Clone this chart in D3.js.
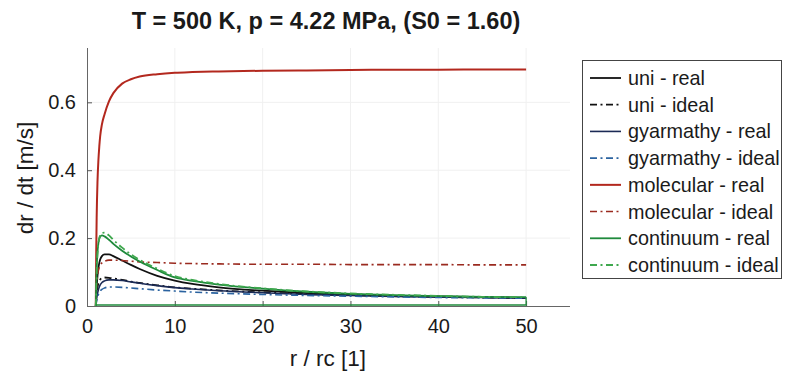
<!DOCTYPE html>
<html>
<head>
<meta charset="utf-8">
<script src="https://cdn.jsdelivr.net/npm/d3@7"></script>
<style>
  body { margin: 0; background: #fff; }
  svg { display: block; font-family: "Liberation Sans", Arial, sans-serif; }
</style>
</head>
<body>
<div id="chart"></div>
<script>
// ---- Data: growth rate dr/dt [m/s] vs. reduced radius r/rc ----
const rGrid = [1, 1.05, 1.1, 1.2, 1.3, 1.4, 1.5, 1.7, 2, 2.5, 3, 4, 5, 6, 8, 10, 12, 15, 20, 25, 30, 35, 40, 45, 50];

const uniReal       = [0, 0.030, 0.055, 0.090, 0.112, 0.127, 0.137, 0.147, 0.152, 0.152, 0.147, 0.134, 0.121, 0.109, 0.089, 0.075, 0.065, 0.055, 0.045, 0.038, 0.034, 0.030, 0.028, 0.026, 0.024];
const uniIdeal      = [0, 0.020, 0.035, 0.055, 0.067, 0.074, 0.078, 0.082, 0.084, 0.083, 0.081, 0.077, 0.072, 0.068, 0.061, 0.055, 0.051, 0.046, 0.040, 0.035, 0.032, 0.029, 0.027, 0.025, 0.024];
const gyarReal      = [0, 0.012, 0.022, 0.037, 0.048, 0.056, 0.062, 0.069, 0.074, 0.077, 0.077, 0.075, 0.071, 0.067, 0.060, 0.054, 0.050, 0.045, 0.039, 0.034, 0.031, 0.028, 0.026, 0.025, 0.023];
const gyarIdeal     = [0, 0.008, 0.015, 0.026, 0.034, 0.040, 0.044, 0.049, 0.053, 0.056, 0.056, 0.055, 0.053, 0.051, 0.047, 0.044, 0.041, 0.038, 0.034, 0.031, 0.029, 0.027, 0.025, 0.024, 0.023];
const molReal       = [0, 0.160, 0.260, 0.370, 0.430, 0.470, 0.500, 0.535, 0.565, 0.603, 0.627, 0.655, 0.668, 0.676, 0.683, 0.687, 0.689, 0.691, 0.693, 0.694, 0.695, 0.696, 0.696, 0.697, 0.697];
const molIdeal      = [0, 0.040, 0.065, 0.090, 0.105, 0.114, 0.120, 0.127, 0.132, 0.135, 0.135, 0.134, 0.132, 0.130, 0.128, 0.126, 0.125, 0.124, 0.123, 0.123, 0.122, 0.122, 0.122, 0.121, 0.121];
const contReal      = [0, 0.060, 0.110, 0.160, 0.185, 0.198, 0.204, 0.208, 0.205, 0.195, 0.183, 0.163, 0.146, 0.131, 0.106, 0.084, 0.074, 0.063, 0.051, 0.042, 0.036, 0.032, 0.029, 0.027, 0.026];
const contIdeal     = [0, 0.050, 0.100, 0.155, 0.185, 0.200, 0.208, 0.215, 0.216, 0.208, 0.195, 0.172, 0.152, 0.136, 0.110, 0.088, 0.077, 0.065, 0.052, 0.043, 0.037, 0.033, 0.030, 0.027, 0.026];

// the continuum-real trace in the source is closed back along the bottom
const contTailR = [50, 1];
const contTailV = [0.003, 0.003];

const seriesNames = ["uni - real", "uni - ideal", "gyarmathy - real", "gyarmathy - ideal",
                     "molecular - real", "molecular - ideal", "continuum - real", "continuum - ideal"];
const seriesValues = [uniReal, uniIdeal, gyarReal, gyarIdeal, molReal, molIdeal, contReal, contIdeal];

const xTicks = [0, 10, 20, 30, 40, 50];
const yTicks = [0, 0.2, 0.4, 0.6];

// ---- Styling per series ----
const colors  = ["#111111", "#111111", "#1b2a55", "#2b63a0", "#b3281e", "#9a2a1f", "#1f8a3c", "#3fa84e"];
const dashed  = [false, true, false, true, false, true, false, true];
const widths  = [1.8, 1.8, 1.6, 1.6, 2, 1.6, 1.8, 1.8];
const DASH = "7,3.5,2,3.5";

const W = 785, H = 376;
const svg = d3.select("#chart").append("svg").attr("width", W).attr("height", H);

const x = d3.scaleLinear().domain([0, 55]).range([87, 570]);
const y = d3.scaleLinear().domain([0, 0.76]).range([306, 48]);

// ---- faint grid ----
svg.append("g").selectAll("line.gx")
  .data(xTicks.slice(1)).join("line")
  .attr("x1", d => x(d)).attr("x2", d => x(d))
  .attr("y1", y.range()[0]).attr("y2", y.range()[1])
  .attr("stroke", "#f0f0f0").attr("stroke-width", 1);
svg.append("g").selectAll("line.gy")
  .data(yTicks.slice(1)).join("line")
  .attr("x1", x.range()[0]).attr("x2", x.range()[1])
  .attr("y1", d => y(d)).attr("y2", d => y(d))
  .attr("stroke", "#f0f0f0").attr("stroke-width", 1);

// ---- axes (left + bottom only, ticks inward) ----
const xAxis = d3.axisBottom(x).tickValues(xTicks).tickSize(-5).tickPadding(13).tickFormat(d3.format("d"));
const yAxis = d3.axisLeft(y).tickValues(yTicks).tickSize(-5).tickPadding(11).tickFormat(d => d === 0 ? "0" : d3.format(".1f")(d));

const gx = svg.append("g").attr("transform", `translate(0,${y(0)})`).call(xAxis);
const gy = svg.append("g").attr("transform", `translate(${x(0)},0)`).call(yAxis);
[gx, gy].forEach(g => {
  g.select(".domain").attr("stroke", "#666").attr("stroke-width", 1);
  g.selectAll(".tick line").attr("stroke", "#555");
  g.selectAll(".tick text").attr("font-size", 20).attr("fill", "#1a1a1a")
    .style("font-family", "'Liberation Sans', Arial, sans-serif");
});
gx.select(".domain").attr("d", `M${x.range()[0]},0.5H${x.range()[1]}`);
gy.select(".domain").attr("d", `M0.5,${y.range()[0]}V${y.range()[1]}`);
gx.selectAll(".tick line").filter(d => d === 0).remove();
gy.selectAll(".tick line").filter(d => d === 0).remove();

// ---- curves ----
const line = d3.line()
  .x(d => x(d[0])).y(d => y(d[1]))
  .curve(d3.curveMonotoneX);

const plot = svg.append("g");
seriesValues.forEach((vals, i) => {
  const pts = rGrid.map((r, k) => [r, vals[k]]);
  plot.append("path")
    .attr("d", line(pts))
    .attr("fill", "none")
    .attr("stroke", colors[i])
    .attr("stroke-width", widths[i])
    .attr("stroke-dasharray", dashed[i] ? DASH : null);
});
// closing segment of continuum-real
plot.append("path")
  .attr("d", d3.line().x(d => x(d[0])).y(d => y(d[1]))(
    [[50, contReal[contReal.length - 1]]].concat(contTailR.map((r, k) => [r, contTailV[k]]))))
  .attr("fill", "none").attr("stroke", colors[6]).attr("stroke-width", 1.3);

// ---- title + axis labels ----
svg.append("text")
  .attr("x", 326).attr("y", 29)
  .attr("text-anchor", "middle")
  .attr("font-size", 23.5).attr("font-weight", "bold").attr("fill", "#1a1a1a")
  .text("T = 500 K, p = 4.22 MPa, (S0 = 1.60)");

svg.append("text")
  .attr("x", 328).attr("y", 366)
  .attr("text-anchor", "middle")
  .attr("font-size", 22.5).attr("fill", "#1a1a1a")
  .text("r / rc [1]");

svg.append("text")
  .attr("transform", `translate(33,178) rotate(-90)`)
  .attr("text-anchor", "middle")
  .attr("font-size", 22.5).attr("fill", "#1a1a1a")
  .text("dr / dt [m/s]");

// ---- legend ----
const lg = svg.append("g");
lg.append("rect")
  .attr("x", 582.5).attr("y", 60.5).attr("width", 199).attr("height", 218)
  .attr("fill", "#fff").attr("stroke", "#444").attr("stroke-width", 1);

const rowY = d3.scalePoint().domain(seriesNames).range([78, 265]);
seriesNames.forEach((name, i) => {
  const yy = rowY(name);
  lg.append("line")
    .attr("x1", 590).attr("x2", 621).attr("y1", yy).attr("y2", yy)
    .attr("stroke", colors[i]).attr("stroke-width", widths[i])
    .attr("stroke-dasharray", dashed[i] ? DASH : null);
  lg.append("text")
    .attr("x", 628).attr("y", yy).attr("dy", "0.35em")
    .attr("font-size", 19.8).attr("fill", "#1a1a1a")
    .text(name);
});
</script>
</body>
</html>
